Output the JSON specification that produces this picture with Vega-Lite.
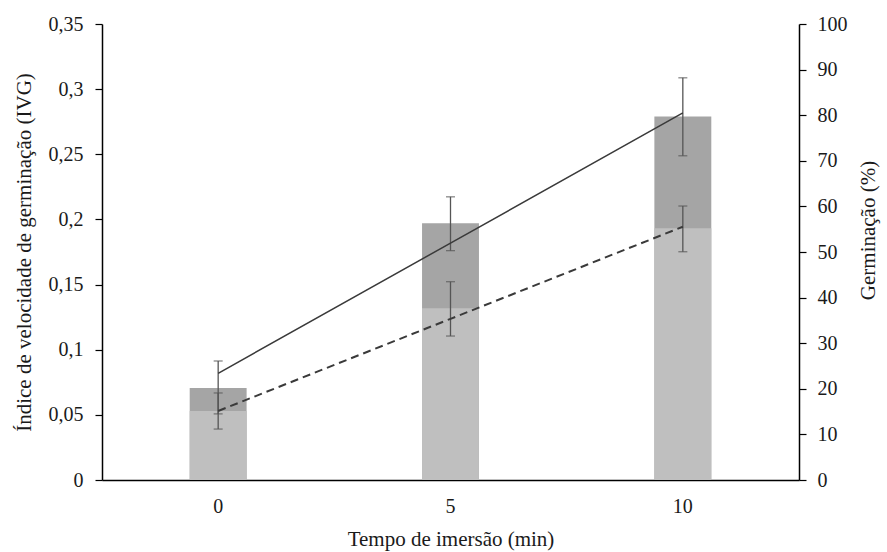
{
  "$schema": "https://vega.github.io/schema/vega-lite/v6.json",
  "autosize": {"type": "none"},
  "padding": {"left": 102, "top": 24, "right": 88, "bottom": 72},
  "width": 697,
  "height": 456,
  "background": "white",
  "config": {
    "view": {"stroke": null},
    "font": "Liberation Serif",
    "axis": {"labelFont": "Liberation Serif", "titleFont": "Liberation Serif", "labelFontSize": 20, "titleFontSize": 21, "titleFontWeight": "normal", "labelColor": "#1a1a1a", "titleColor": "#1a1a1a", "domainColor": "#000000", "tickColor": "#000000", "domainWidth": 1.5, "tickWidth": 1.2, "grid": false}
  },
  "data": {"values": [
    {"t": 0, "germ": 20.2, "germ_lo": 14.5, "germ_hi": 26.1, "germ_trend": 23.4, "ivg": 0.053, "ivg_lo": 0.0391, "ivg_hi": 0.0668, "ivg_trend": 0.053},
    {"t": 5, "germ": 56.3, "germ_lo": 50.3, "germ_hi": 62.1, "germ_trend": 51.95, "ivg": 0.1318, "ivg_lo": 0.1105, "ivg_hi": 0.1522, "ivg_trend": 0.1237},
    {"t": 10, "germ": 79.7, "germ_lo": 71.1, "germ_hi": 88.2, "germ_trend": 80.5, "ivg": 0.1932, "ivg_lo": 0.1752, "ivg_hi": 0.2103, "ivg_trend": 0.1944}
  ]},
  "encoding": {
    "x": {"field": "t", "type": "ordinal",
      "scale": {"paddingInner": 0.755, "paddingOuter": 0.3775},
      "axis": {"title": "Tempo de imersão (min)", "labelAngle": 0, "ticks": false, "labelPadding": 16, "titlePadding": 12}}
  },
  "layer": [
    {
      "mark": {"type": "bar", "color": "#a5a5a5"},
      "encoding": {
        "y": {"field": "germ", "type": "quantitative", "scale": {"domain": [0, 100], "nice": false, "zero": true},
          "axis": {"orient": "right", "title": "Germinação (%)", "values": [0,10,20,30,40,50,60,70,80,90,100], "tickSize": 7, "labelPadding": 11, "titleAngle": 270, "titleX": 69, "titleY": 206, "titleAlign": "center", "titleBaseline": "middle"}}
      }
    },
    {
      "mark": {"type": "bar", "color": "#bfbfbf"},
      "encoding": {
        "y": {"field": "ivg", "type": "quantitative", "scale": {"domain": [0, 0.35], "nice": false, "zero": true},
          "axis": {"orient": "left", "title": "Índice de velocidade de germinação (IVG)", "values": [0,0.05,0.1,0.15,0.2,0.25,0.3,0.35], "labelExpr": "replace(format(datum.value, '.2~f'), '.', ',')", "tickSize": 7, "labelPadding": 12, "titlePadding": 14}}
      }
    },
    {
      "mark": {"type": "rule", "color": "#555555", "strokeWidth": 1.3},
      "encoding": {
        "y": {"field": "germ_lo", "type": "quantitative", "scale": {"domain": [0, 100], "nice": false}, "axis": null},
        "y2": {"field": "germ_hi"}
      }
    },
    {
      "mark": {"type": "tick", "color": "#555555", "thickness": 1.3, "size": 9},
      "encoding": {
        "y": {"field": "germ_lo", "type": "quantitative", "scale": {"domain": [0, 100], "nice": false}, "axis": null}
      }
    },
    {
      "mark": {"type": "tick", "color": "#555555", "thickness": 1.3, "size": 9},
      "encoding": {
        "y": {"field": "germ_hi", "type": "quantitative", "scale": {"domain": [0, 100], "nice": false}, "axis": null}
      }
    },
    {
      "mark": {"type": "rule", "color": "#555555", "strokeWidth": 1.3},
      "encoding": {
        "y": {"field": "ivg_lo", "type": "quantitative", "scale": {"domain": [0, 0.35], "nice": false}, "axis": null},
        "y2": {"field": "ivg_hi"}
      }
    },
    {
      "mark": {"type": "tick", "color": "#555555", "thickness": 1.3, "size": 9},
      "encoding": {
        "y": {"field": "ivg_lo", "type": "quantitative", "scale": {"domain": [0, 0.35], "nice": false}, "axis": null}
      }
    },
    {
      "mark": {"type": "tick", "color": "#555555", "thickness": 1.3, "size": 9},
      "encoding": {
        "y": {"field": "ivg_hi", "type": "quantitative", "scale": {"domain": [0, 0.35], "nice": false}, "axis": null}
      }
    },
    {
      "mark": {"type": "line", "color": "#3a3a3a", "strokeWidth": 1.5},
      "encoding": {
        "y": {"field": "germ_trend", "type": "quantitative", "scale": {"domain": [0, 100], "nice": false}, "axis": null}
      }
    },
    {
      "mark": {"type": "line", "color": "#3a3a3a", "strokeWidth": 2, "strokeDash": [8, 5]},
      "encoding": {
        "y": {"field": "ivg_trend", "type": "quantitative", "scale": {"domain": [0, 0.35], "nice": false}, "axis": null}
      }
    }
  ],
  "resolve": {"scale": {"y": "independent"}, "axis": {"y": "independent"}}
}
